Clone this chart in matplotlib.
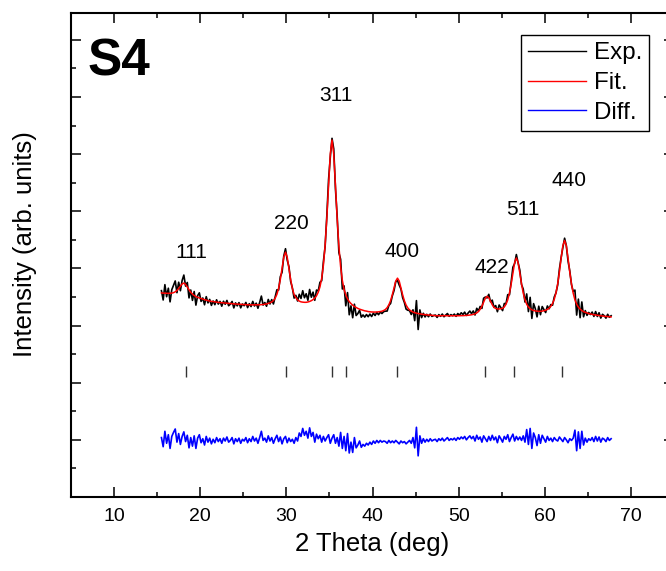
import numpy as np
import matplotlib
matplotlib.use('Agg')
import matplotlib.pyplot as plt
from matplotlib.ticker import MultipleLocator, NullFormatter

plt.rcParams['font.family'] = ['Liberation Sans', 'DejaVu Sans']

# 2 theta grid: 15.5 .. 67.7 deg, 0.2 deg step
theta_start = 15.5
theta_step = 0.2

# fitted profile (arb. units), 10 points per row = 2 deg
fit = [
    2571, 2568, 2566, 2565, 2564, 2565, 2568, 2576, 2591, 2615,
    2649, 2690, 2729, 2744, 2721, 2674, 2624, 2582, 2551, 2526,
    2508, 2494, 2483, 2473, 2463, 2454, 2446, 2437, 2428, 2423,
    2420, 2415, 2411, 2406, 2403, 2399, 2396, 2393, 2390, 2387,
    2385, 2382, 2379, 2377, 2375, 2372, 2370, 2368, 2367, 2365,
    2364, 2363, 2363, 2363, 2363, 2362, 2363, 2364, 2366, 2369,
    2373, 2378, 2387, 2398, 2414, 2438, 2479, 2546, 2652, 2806,
    3002, 3196, 3285, 3196, 3000, 2802, 2648, 2541, 2489, 2450,
    2428, 2415, 2410, 2407, 2407, 2413, 2422, 2436, 2455, 2482,
    2522, 2584, 2677, 2825, 3058, 3405, 3885, 4464, 5006, 5247,
    5003, 4454, 3869, 3384, 3030, 2790, 2634, 2536, 2467, 2419,
    2385, 2357, 2334, 2316, 2300, 2287, 2277, 2266, 2258, 2253,
    2245, 2241, 2238, 2237, 2236, 2238, 2240, 2245, 2251, 2264,
    2282, 2314, 2363, 2437, 2539, 2663, 2779, 2830, 2779, 2661,
    2537, 2434, 2358, 2308, 2273, 2253, 2236, 2226, 2217, 2211,
    2204, 2199, 2195, 2191, 2187, 2184, 2182, 2180, 2176, 2174,
    2172, 2172, 2172, 2172, 2174, 2174, 2171, 2172, 2172, 2172,
    2171, 2171, 2171, 2172, 2174, 2174, 2176, 2177, 2180, 2184,
    2189, 2196, 2205, 2222, 2246, 2285, 2340, 2409, 2479, 2513,
    2487, 2425, 2365, 2319, 2300, 2292, 2290, 2295, 2302, 2326,
    2374, 2451, 2568, 2728, 2922, 3104, 3183, 3102, 2921, 2728,
    2568, 2452, 2374, 2325, 2294, 2275, 2264, 2256, 2252, 2249,
    2250, 2253, 2260, 2268, 2283, 2304, 2337, 2386, 2460, 2573,
    2733, 2941, 3182, 3399, 3489, 3398, 3179, 2937, 2727, 2566,
    2451, 2374, 2323, 2288, 2263, 2244, 2232, 2219, 2210, 2203,
    2196, 2190, 2185, 2179, 2175, 2171, 2167, 2163, 2160, 2157,
    2155, 2152,
]

# difference curve (Exp. - Fit.), same grid
diff = [
    40, -120, 150, -60, 90, -150, 60, 130, 190, -40,
    110, -80, 60, 140, -30, 80, -140, 40, -110, 70,
    -150, 30, 90, -50, 20, -90, 60, -40, 30, -70,
    10, -50, 40, -30, 20, -60, 30, -20, 50, -40,
    -10, 40, -70, 20, -30, 30, -60, 10, -20, 40,
    -50, 20, -30, 60, -20, 30, -60, 40, 150, -10,
    30, -40, 70, -20, 40, -60, 20, 80, -30, 50,
    -70, 20, 60, -50, 30, -30, 10, -60, 40, -20,
    120, 60, 200, 80, 150, 30, 210, 60, 130, -40,
    100, 20, 80, -40, 60, -20, 40, 90, -60, 30,
    90, -60, 40, -110, 130, -150, 60, -190, 110, -230,
    -40, -220, 40, -140, -90, -20, -130, -80, -110, -60,
    -90, -40, -80, -20, -60, -10, -50, -10, -40, -20,
    -30, -60, -10, -50, -20, -50, -10, -40, -70, -20,
    -50, -30, -70, -40, -10, -60, 40, -140, 220, -280,
    70, -60, 20, -40, 10, -30, 20, -20, 0, 10,
    -30, 20, -10, 30, -20, 10, 40, -10, 20, 0,
    30, -10, 40, 10, 50, 20, 60, 0, 40, 70,
    20, 60, -20, 80, 10, 50, -40, 70, 20, -30,
    60, -10, 80, 0, 50, -50, 70, 20, -40, 60,
    10, 90, -30, 40, 100, -20, 60, 0, 50, -10,
    70, -40, 180, -80, 200, -150, 120, 40, -100, 90,
    -60, 80, 20, -40, 60, -10, 30, -30, 40, 0,
    -20, 50, 10, -30, 40, 0, -50, 20, -10, 30,
    170, -190, 140, -150, 150, -90, 30, -40, 20, -10,
    40, -30, 60, -20, 50, -40, 30, 10, -30, 40,
    -10, 20,
]

bragg_pos = [18.4, 30.0, 35.25, 36.9, 42.8, 53.05, 56.45, 61.95]

hkl = ['111', '220', '311', '400', '422', '511', '440']
hkl_x = [19.0, 30.6, 35.8, 43.45, 53.8, 57.4, 62.85]
hkl_y = [3285, 3780, 6025, 3296, 3022, 4025, 4538]

two_theta = np.round(theta_start + theta_step * np.arange(len(fit)), 2)
fit = np.array(fit)
diff = np.array(diff)
exp = fit + diff

fig = plt.figure(figsize=(6.66, 5.71), dpi=100)
ax = fig.add_axes([71 / 666, 74 / 571, 603 / 666, 484 / 571])

ax.plot(two_theta, exp, color='black', lw=1.2, label='Exp.')
ax.plot(two_theta, fit, color='red', lw=1.1, label='Fit.')
ax.plot(two_theta, diff, color='blue', lw=1.2, label='Diff.')
ax.vlines(bragg_pos, 1100, 1300, color='#333333', lw=1.0)

for lab, px, py in zip(hkl, hkl_x, hkl_y):
    ax.text(px, py, lab, ha='center', va='center', fontsize=15)

ax.text(0.027, 0.87, 'S4', transform=ax.transAxes, fontsize=37,
        fontweight='bold', ha='left', va='baseline')

ax.set_xlim(5, 75)
ax.set_ylim(-1000, 7470)
ax.xaxis.set_major_locator(MultipleLocator(10))
ax.xaxis.set_minor_locator(MultipleLocator(5))
ax.yaxis.set_major_locator(MultipleLocator(1000))
ax.yaxis.set_minor_locator(MultipleLocator(500))
ax.yaxis.set_major_formatter(NullFormatter())

ax.tick_params(which='both', direction='in', top=True, right=True,
               width=1.1, labelsize=14, pad=8)
ax.tick_params(which='major', length=7)
ax.tick_params(which='minor', length=3.6)
for s in ax.spines.values():
    s.set_linewidth(1.5)

ax.set_xlabel('2 Theta (deg)', fontsize=18.5, labelpad=5)
ax.set_ylabel('Intensity (arb. units)', fontsize=18.5)
ax.yaxis.set_label_coords(-0.056, 0.523)

leg = ax.legend(loc='upper right', bbox_to_anchor=(649 / 666, 536 / 571),
                bbox_transform=fig.transFigure, fontsize=17.4,
                fancybox=False, edgecolor='black', framealpha=1,
                borderpad=0.3, labelspacing=0.32, handlelength=2.4,
                handletextpad=0.3, borderaxespad=0)
leg.get_frame().set_linewidth(1.0)
for line in leg.get_lines():
    line.set_linewidth(1.0)

fig.savefig('out.png', dpi=100)
